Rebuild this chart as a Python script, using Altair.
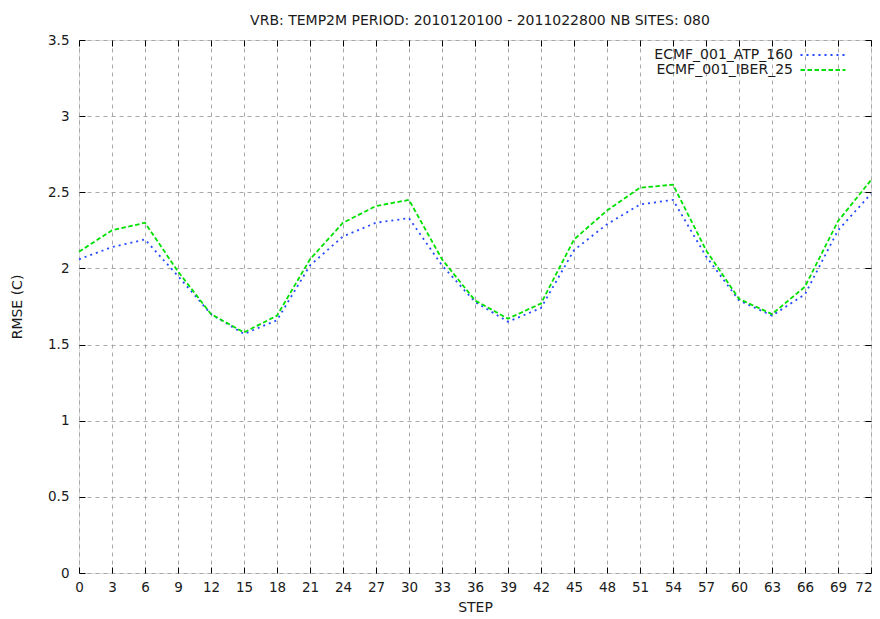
import altair as alt
import pandas as pd

steps = [0, 3, 6, 9, 12, 15, 18, 21, 24, 27, 30, 33, 36, 39, 42, 45, 48, 51, 54, 57, 60, 63, 66, 69, 72]
atp_160 = [2.06, 2.14, 2.19, 1.95, 1.70, 1.57, 1.66, 2.02, 2.21, 2.30, 2.33, 2.02, 1.78, 1.65, 1.74,
           2.12, 2.29, 2.42, 2.45, 2.08, 1.79, 1.69, 1.83, 2.25, 2.49]
iber_25 = [2.11, 2.25, 2.30, 1.98, 1.70, 1.58, 1.69, 2.06, 2.30, 2.41, 2.45, 2.06, 1.79, 1.67, 1.77,
           2.19, 2.38, 2.53, 2.55, 2.12, 1.80, 1.70, 1.88, 2.31, 2.58]
series_names = ["ECMF_001_ATP_160", "ECMF_001_IBER_25"]
y_ticks = [0, 0.5, 1, 1.5, 2, 2.5, 3, 3.5]

rows = []
for name, vals in zip(series_names, [atp_160, iber_25]):
    for s, v in zip(steps, vals):
        rows.append({"step": s, "rmse": v, "series": name})
df = pd.DataFrame(rows)

FONT = "DejaVu Sans"
TXT = "#1a1a1a"
xscale = alt.Scale(domain=[0, 72], nice=False, zero=False)
yscale = alt.Scale(domain=[0, 3.5], nice=False)

color = alt.Color("series:N", scale=alt.Scale(domain=series_names, range=["#2448ff", "#00e000"]),
                  legend=alt.Legend(title=None, orient="none", legendX=737, legendY=8,
                                    symbolType="M-5,0H5", symbolSize=81, symbolStrokeWidth=1.8,
                                    labelAlign="right", labelOffset={"expr": "-37"}, labelFont=FONT,
                                    labelFontSize=14, labelColor=TXT, rowPadding=1,
                                    padding=0, labelLimit=300))
dash = alt.StrokeDash("series:N", scale=alt.Scale(domain=series_names, range=[[2, 4], [4.5, 2.5]]),
                      legend=None)

base = alt.Chart(df)

main = base.mark_line(strokeWidth=1.8).encode(
    x=alt.X("step:Q", scale=xscale,
            axis=alt.Axis(orient="bottom", values=steps, title="STEP", grid=True, gridDash=[4, 4],
                          gridColor="#a8a8a8", gridWidth=1, domain=False, ticks=False,
                          labelFlush=False,
                          labelAlign={"expr": "datum.value == 72 ? 'right' : 'center'"},
                          labelOffset={"expr": "datum.value == 72 ? 1 : 0"},
                          labelPadding=7, labelFont=FONT, labelFontSize=13.5,
                          labelColor=TXT, titleFont=FONT, titleFontSize=14, titleFontWeight="normal",
                          titleColor=TXT, titleX=396, titleY=34, titleBaseline="middle",
                          titleAlign="center")),
    y=alt.Y("rmse:Q", scale=yscale,
            axis=alt.Axis(orient="left", values=y_ticks, format="~g", title="RMSE (C)", grid=True,
                          gridDash=[4, 4], gridColor="#a8a8a8", gridWidth=1, domain=False,
                          ticks=False, labelPadding=10, labelFont=FONT, labelFontSize=13.5,
                          labelColor=TXT, titleFont=FONT, titleFontSize=14, titleFontWeight="normal",
                          titleColor=TXT, titleX=-61.5, titleY=266.5, titleBaseline="middle",
                          titleAlign="center")),
    color=color,
    strokeDash=dash,
)

tick_axis = dict(labels=False, grid=False, domain=False, ticks=True, tickSize=6, offset=-6,
                 tickColor="#000", tickWidth=1, title=None)

ticks_bl = base.mark_line(opacity=0).encode(
    x=alt.X("step:Q", scale=xscale, axis=alt.Axis(orient="bottom", values=steps, **tick_axis)),
    y=alt.Y("rmse:Q", scale=yscale, axis=alt.Axis(orient="left", values=y_ticks, **tick_axis)),
    detail="series:N",
)
ticks_tr = base.mark_line(opacity=0).encode(
    x=alt.X("step:Q", scale=xscale, axis=alt.Axis(orient="top", values=steps, **tick_axis)),
    y=alt.Y("rmse:Q", scale=yscale, axis=alt.Axis(orient="right", values=y_ticks, **tick_axis)),
    detail="series:N",
)

chart = alt.layer(main, ticks_bl, ticks_tr).resolve_axis(x="independent", y="independent").properties(
    width=792, height=533,
    autosize=alt.AutoSizeParams(type="none"),
    padding={"left": 71, "top": 32, "right": 1, "bottom": 44},
    title=alt.Title("VRB: TEMP2M PERIOD: 2010120100 - 2011022800 NB SITES: 080",
                    font=FONT, fontSize=14, fontWeight="normal", color=TXT,
                    anchor="middle", offset=5, dx=5),
).configure_view(stroke="#000", strokeWidth=1).configure(background="white")

chart.save("out.html", embed_options={"renderer": "svg", "actions": False})
